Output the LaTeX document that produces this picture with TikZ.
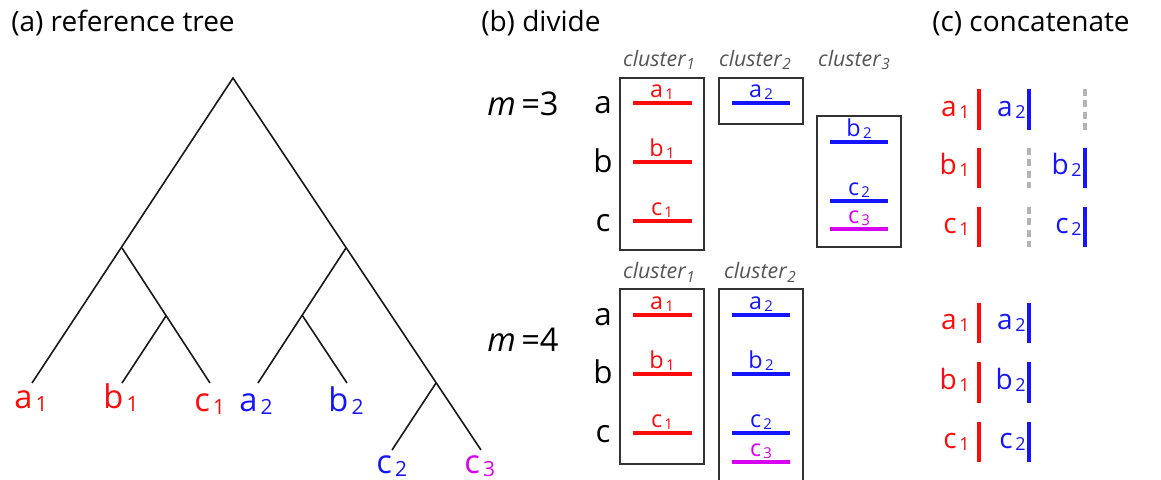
\documentclass[tikz,border=0pt]{standalone}
\usepackage{fontspec}
\usepackage{graphicx}
\setmainfont{Open Sans}
\definecolor{cred}{RGB}{255,10,10}
\definecolor{cblue}{RGB}{20,20,255}
\definecolor{cmag}{RGB}{215,0,240}
\definecolor{cgap}{RGB}{180,180,180}
\definecolor{cbox}{RGB}{50,50,50}
\definecolor{ctitle}{RGB}{85,85,85}
\newcommand\lbl[2]{#1\kern0.1em\raisebox{-0.18ex}{\scalebox{0.64}{#2}}}
\newcommand\clu[1]{\textit{cluster}\raisebox{-0.35ex}{\scalebox{0.72}{\textit{#1}}}}
\begin{document}
\begin{tikzpicture}[x=0.75pt,y=-0.75pt,
  treeline/.style={line width=1.2pt,black!90},
  leaf/.style={inner sep=0pt,anchor=base west,font=\fontsize{24.5}{28}\selectfont},
  title/.style={inner sep=0pt,anchor=base west,font=\fontsize{21}{25}\selectfont},
  rowlbl/.style={inner sep=0pt,anchor=base,font=\fontsize{23.5}{27}\selectfont},
  mlbl/.style={inner sep=0pt,anchor=base,font=\fontsize{24.5}{28}\selectfont},
  clbl/.style={inner sep=0pt,anchor=base,font=\fontsize{16}{19}\selectfont,text=ctitle},
  seglbl/.style={inner sep=0pt,anchor=base,font=\fontsize{17.5}{20}\selectfont},
  barlbl/.style={inner sep=0pt,anchor=base east,font=\fontsize{21}{25}\selectfont},
  clbox/.style={draw=cbox,line width=1.1pt},
  seg/.style={line width=3pt},
  bar/.style={line width=3pt},
  gapbar/.style={line width=3pt,draw=cgap,dash pattern=on 5.25pt off 3.25pt}]
\useasboundingbox (0,0) rectangle (1161,479);

% titles
\node[title] (ta) at (11,31) {(a) reference tree};
\node[title] (tb) at (481,31) {(b) divide};
\node[title] (tc) at (932,31) {(c) concatenate};

% ---------- tree ----------
\coordinate (r) at (233,78);
\coordinate (L) at (122,248);
\coordinate (R) at (346,248);
\coordinate (LB) at (166,316);
\coordinate (RA) at (302,315);
\coordinate (RC) at (436,383);
\coordinate (ea1) at (32,383);
\coordinate (eb1) at (122,383);
\coordinate (ec1) at (210,383);
\coordinate (ea2) at (258,383);
\coordinate (eb2) at (347,383);
\coordinate (ec2) at (392,450);
\coordinate (ec3) at (481,450);
\draw[treeline] (ea1) -- (r) -- (ec3);
\draw[treeline] (L) -- (ec1);
\draw[treeline] (LB) -- (eb1);
\draw[treeline] (R) -- (ea2);
\draw[treeline] (RA) -- (eb2);
\draw[treeline] (RC) -- (ec2);
\node[leaf,text=cred] (la1) at (14,408) {\lbl{a}{1}};
\node[leaf,text=cred] (lb1) at (103,408) {\lbl{b}{1}};
\node[leaf,text=cred] (lc1) at (194,411) {\lbl{c}{1}};
\node[leaf,text=cblue] (la2) at (239,411) {\lbl{a}{2}};
\node[leaf,text=cblue] (lb2) at (328,411) {\lbl{b}{2}};
\node[leaf,text=cblue] (lc2) at (376,473) {\lbl{c}{2}};
\node[leaf,text=cmag] (lc3) at (464,473) {\lbl{c}{3}};

% ---------- (b) divide, m=3 ----------
\node[mlbl] (m3) at (523,115) {\textit{m}\,=3};
\node[rowlbl] (ra3) at (603,113) {a};
\node[rowlbl] (rb3) at (603,172) {b};
\node[rowlbl] (rc3) at (603,231) {c};
\node[clbl] (c31) at (659,66) {\clu{1}};
\node[clbl] (c32) at (755,66) {\clu{2}};
\node[clbl] (c33) at (854,66) {\clu{3}};
\draw[clbox] (620,78) rectangle (704,250);
\draw[clbox] (719,78) rectangle (803,124);
\draw[clbox] (817,116) rectangle (901,247);
% cluster1
\coordinate (s1a0) at (633,103); \coordinate (s1a1) at (692,103);
\coordinate (s1b0) at (633,162); \coordinate (s1b1) at (692,162);
\coordinate (s1c0) at (633,221); \coordinate (s1c1) at (692,221);
\draw[seg,cred] (s1a0) -- (s1a1);
\draw[seg,cred] (s1b0) -- (s1b1);
\draw[seg,cred] (s1c0) -- (s1c1);
\node[seglbl,text=cred] (q1a) at (662,97) {\lbl{a}{1}};
\node[seglbl,text=cred] (q1b) at (662,156) {\lbl{b}{1}};
\node[seglbl,text=cred] (q1c) at (662,215) {\lbl{c}{1}};
% cluster2
\coordinate (s2a0) at (732,103); \coordinate (s2a1) at (790,103);
\draw[seg,cblue] (s2a0) -- (s2a1);
\node[seglbl,text=cblue] (q2a) at (761,97) {\lbl{a}{2}};
% cluster3
\coordinate (s3b0) at (830,142); \coordinate (s3b1) at (888,142);
\coordinate (s3c0) at (830,201); \coordinate (s3c1) at (888,201);
\coordinate (s3d0) at (830,229); \coordinate (s3d1) at (888,229);
\draw[seg,cblue] (s3b0) -- (s3b1);
\draw[seg,cblue] (s3c0) -- (s3c1);
\draw[seg,cmag] (s3d0) -- (s3d1);
\node[seglbl,text=cblue] (q3b) at (859,136) {\lbl{b}{2}};
\node[seglbl,text=cblue] (q3c) at (859,195) {\lbl{c}{2}};
\node[seglbl,text=cmag] (q3d) at (859,223) {\lbl{c}{3}};

% ---------- (b) divide, m=4 ----------
\node[mlbl] (m4) at (523,351) {\textit{m}\,=4};
\node[rowlbl] (ra4) at (603,325) {a};
\node[rowlbl] (rb4) at (603,383) {b};
\node[rowlbl] (rc4) at (603,442) {c};
\node[clbl] (c41) at (659,278) {\clu{1}};
\node[clbl] (c42) at (760,278) {\clu{2}};
\draw[clbox] (620,289) rectangle (704,464);
\draw[clbox] (719,481) -- (719,289) -- (803,289) -- (803,481);
\coordinate (t1a0) at (633,315); \coordinate (t1a1) at (692,315);
\coordinate (t1b0) at (633,374); \coordinate (t1b1) at (692,374);
\coordinate (t1c0) at (633,433); \coordinate (t1c1) at (692,433);
\draw[seg,cred] (t1a0) -- (t1a1);
\draw[seg,cred] (t1b0) -- (t1b1);
\draw[seg,cred] (t1c0) -- (t1c1);
\node[seglbl,text=cred] (p1a) at (662,309) {\lbl{a}{1}};
\node[seglbl,text=cred] (p1b) at (662,368) {\lbl{b}{1}};
\node[seglbl,text=cred] (p1c) at (662,427) {\lbl{c}{1}};
\coordinate (t2a0) at (732,315); \coordinate (t2a1) at (790,315);
\coordinate (t2b0) at (732,374); \coordinate (t2b1) at (790,374);
\coordinate (t2c0) at (732,433); \coordinate (t2c1) at (790,433);
\coordinate (t2d0) at (732,462); \coordinate (t2d1) at (790,462);
\draw[seg,cblue] (t2a0) -- (t2a1);
\draw[seg,cblue] (t2b0) -- (t2b1);
\draw[seg,cblue] (t2c0) -- (t2c1);
\draw[seg,cmag] (t2d0) -- (t2d1);
\node[seglbl,text=cblue] (p2a) at (761,309) {\lbl{a}{2}};
\node[seglbl,text=cblue] (p2b) at (761,368) {\lbl{b}{2}};
\node[seglbl,text=cblue] (p2c) at (761,427) {\lbl{c}{2}};
\node[seglbl,text=cmag] (p2d) at (761,456) {\lbl{c}{3}};

% ---------- (c) concatenate, m=3 ----------
\coordinate (u1a0) at (979,89);  \coordinate (u1a1) at (979,130);
\coordinate (u1b0) at (979,148); \coordinate (u1b1) at (979,188);
\coordinate (u1c0) at (979,207); \coordinate (u1c1) at (979,247);
\coordinate (u2a0) at (1029,89);  \coordinate (u2a1) at (1029,130);
\coordinate (u2b0) at (1029,148); \coordinate (u2b1) at (1029,188);
\coordinate (u2c0) at (1029,207); \coordinate (u2c1) at (1029,247);
\coordinate (u3a0) at (1085,89);  \coordinate (u3a1) at (1085,130);
\coordinate (u3b0) at (1085,148); \coordinate (u3b1) at (1085,188);
\coordinate (u3c0) at (1085,207); \coordinate (u3c1) at (1085,247);
\draw[bar,cred] (u1a0) -- (u1a1);
\draw[bar,cred] (u1b0) -- (u1b1);
\draw[bar,cred] (u1c0) -- (u1c1);
\draw[bar,cblue] (u2a0) -- (u2a1);
\draw[gapbar] (u2b0) -- (u2b1);
\draw[gapbar] (u2c0) -- (u2c1);
\draw[gapbar] (u3a0) -- (u3a1);
\draw[bar,cblue] (u3b0) -- (u3b1);
\draw[bar,cblue] (u3c0) -- (u3c1);
\node[barlbl,text=cred] (v1a) at (970,116) {\lbl{a}{1}};
\node[barlbl,text=cred] (v1b) at (970,174) {\lbl{b}{1}};
\node[barlbl,text=cred] (v1c) at (970,233) {\lbl{c}{1}};
\node[barlbl,text=cblue] (v2a) at (1026,116) {\lbl{a}{2}};
\node[barlbl,text=cblue] (v3b) at (1082,174) {\lbl{b}{2}};
\node[barlbl,text=cblue] (v3c) at (1082,233) {\lbl{c}{2}};

% ---------- (c) concatenate, m=4 ----------
\coordinate (w1a0) at (979,303); \coordinate (w1a1) at (979,343);
\coordinate (w1b0) at (979,362); \coordinate (w1b1) at (979,403);
\coordinate (w1c0) at (979,422); \coordinate (w1c1) at (979,462);
\coordinate (w2a0) at (1029,303); \coordinate (w2a1) at (1029,343);
\coordinate (w2b0) at (1029,362); \coordinate (w2b1) at (1029,403);
\coordinate (w2c0) at (1029,422); \coordinate (w2c1) at (1029,462);
\draw[bar,cred] (w1a0) -- (w1a1);
\draw[bar,cred] (w1b0) -- (w1b1);
\draw[bar,cred] (w1c0) -- (w1c1);
\draw[bar,cblue] (w2a0) -- (w2a1);
\draw[bar,cblue] (w2b0) -- (w2b1);
\draw[bar,cblue] (w2c0) -- (w2c1);
\node[barlbl,text=cred] (x1a) at (970,329) {\lbl{a}{1}};
\node[barlbl,text=cred] (x1b) at (970,389) {\lbl{b}{1}};
\node[barlbl,text=cred] (x1c) at (970,448) {\lbl{c}{1}};
\node[barlbl,text=cblue] (x2a) at (1026,329) {\lbl{a}{2}};
\node[barlbl,text=cblue] (x2b) at (1026,389) {\lbl{b}{2}};
\node[barlbl,text=cblue] (x2c) at (1026,448) {\lbl{c}{2}};
\end{tikzpicture}
\end{document}
